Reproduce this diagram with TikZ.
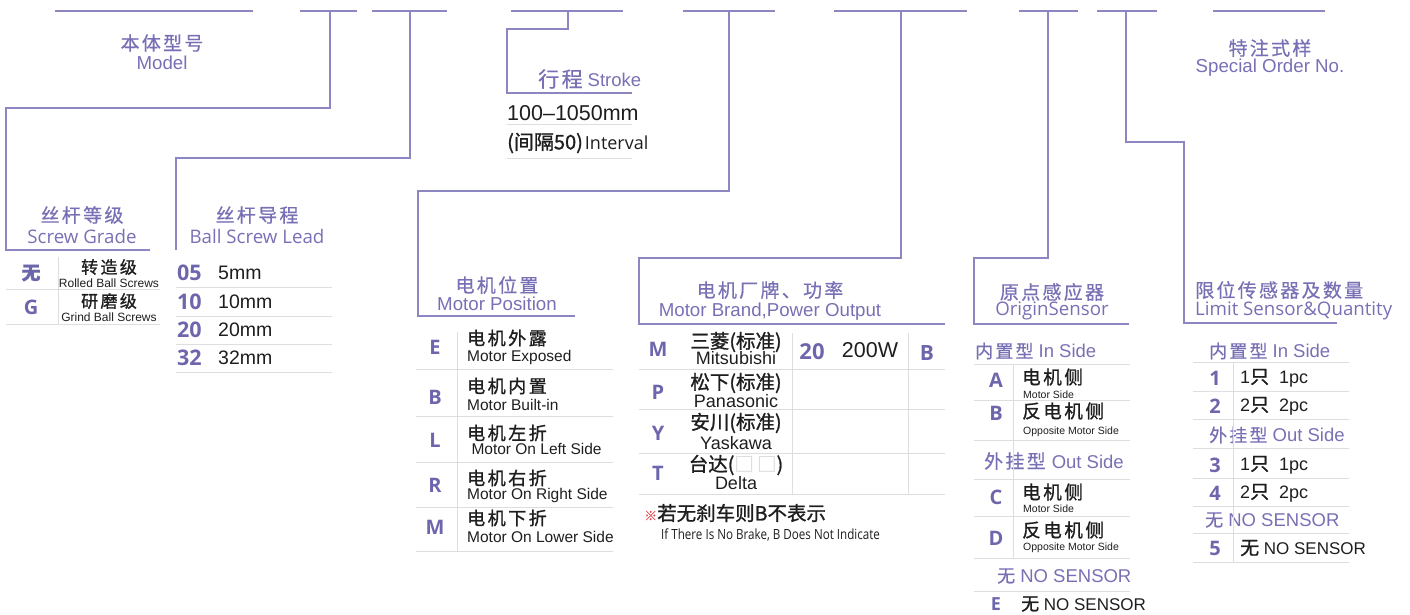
\documentclass[tikz,border=0pt]{standalone}
\usepackage{fontspec}
\usepackage{graphicx}
\setmainfont{Liberation Sans}
\newfontfamily\zh[FakeBold=0.6]{Noto Sans CJK SC}
\newfontfamily\zhs[LetterSpace=12,FakeBold=0.6]{Noto Sans CJK SC}
\newfontfamily\zhb[LetterSpace=14,FakeBold=1.2]{Noto Sans CJK SC}
\newfontfamily\zhk[FakeBold=1.2]{Noto Sans CJK SC}
\newfontfamily\hum{Open Sans}
\definecolor{lineC}{HTML}{8C87C3}
\definecolor{headC}{HTML}{7870B4}
\definecolor{letC}{HTML}{6E66AC}
\definecolor{grayL}{HTML}{DEDEDE}
\definecolor{txtC}{HTML}{1E1E1E}
\definecolor{starC}{HTML}{E0505A}
\newcommand{\fs}[1]{\fontsize{#1}{#1}\selectfont}
\tikzset{
  pl/.style={draw=lineC, line width=1.5pt},
  gl/.style={draw=grayL, line width=0.9pt},
  hz/.style={text=headC, inner sep=0pt, font=\zhs\fs{19}},
  he/.style={text=headC, inner sep=0pt, font=\hum\fs{18.7}},
  hea/.style={text=headC, inner sep=0pt, font=\fs{18.7}},
  lt/.style={text=letC, inner sep=0pt, font=\hum\bfseries\fs{20}},
  tz/.style={text=txtC, inner sep=0pt, font=\zhb\fs{17}},
  te/.style={text=txtC, inner sep=0pt, font=\fs{15.5}},
  ts/.style={text=txtC, inner sep=0pt, font=\fs{12}},
  tm/.style={text=txtC, inner sep=0pt, font=\fs{19.5}},
  sub/.style={text=headC, inner sep=0pt, font=\fs{18.5}},
}
\begin{document}
\begin{tikzpicture}[x=1pt,y=-1pt]
\useasboundingbox (0,0) rectangle (1410,614);
% ---------- top code segments ----------
\coordinate (a1) at (55,11); \coordinate (a2) at (253,11);
\coordinate (b1) at (300,11); \coordinate (b2) at (357,11); \coordinate (bs) at (330,11);
\coordinate (c1) at (372,11); \coordinate (c2) at (447,11); \coordinate (cs) at (410,11);
\coordinate (d1) at (511,11); \coordinate (d2) at (623,11); \coordinate (ds) at (568,11);
\coordinate (e1) at (683,11); \coordinate (e2) at (775,11); \coordinate (es) at (729,11);
\coordinate (f1) at (834,11); \coordinate (f2) at (967,11); \coordinate (fs) at (901,11);
\coordinate (g1) at (1019,11); \coordinate (g2) at (1078,11); \coordinate (gs) at (1048,11);
\coordinate (h1) at (1097,11); \coordinate (h2) at (1157,11); \coordinate (hs) at (1126,11);
\coordinate (i1) at (1213,11); \coordinate (i2) at (1325,11);
\foreach \p in {a,b,c,d,e,f,g,h,i} {\draw[pl] (\p1) -- (\p2);}
% ---------- connectors ----------
\draw[pl] (bs) -- (330,108) -- (6,108) -- (6,250) -- (150,250);
\draw[pl] (cs) -- (410,158) -- (176,158) -- (176,250);
\draw[pl] (ds) -- (568,29) -- (507,29) -- (507,93) -- (632,93);
\draw[pl] (es) -- (729,191) -- (418,191) -- (418,316) -- (575,316);
\draw[pl] (fs) -- (901,258) -- (639,258) -- (639,324) -- (945,324);
\draw[pl] (gs) -- (1048,258) -- (974,258) -- (974,324) -- (1129,324);
\draw[pl] (hs) -- (1126,142) -- (1184,142) -- (1184,323) -- (1337,323);
% ---------- model ----------
\node[hz] (mz) at (162,43) {本体型号};
\node[hea] (me) at (162,63) {Model};
\node[hz] (sz) at (1270,48) {特注式样};
\node[hea] (se) at (1270,68) {Special Order No.};
% ---------- stroke ----------
\node[anchor=west, inner sep=0pt] (st) at (538,79) {\textcolor{headC}{\zhs\fs{21}行程}\hspace{5pt}\textcolor{headC}{\fs{18.5}Stroke}};
\node[tm, font=\fs{21.5}, anchor=west] (st1) at (507,113) {100–1050mm};
\node[tm, anchor=west] (st2) at (507,143) {{\zhk\fs{20}(间隔50)}\hspace{2pt}{\hum\fs{18}Interval}};
\draw[gl] (507,124) -- (632,124);
\draw[gl] (507,158) -- (632,158);
% ---------- screw grade ----------
\node[hz] (gz) at (82,215) {丝杆等级};
\node[he] (ge) at (82,236) {Screw Grade};
\node[lt, font=\zh\bfseries\fs{19}] (g1l) at (31,273) {无};
\node[lt] (g2l) at (31,307) {G};
\node[tz] (g1z) at (109,267) {转造级};
\node[ts] (g1e) at (109,283) {Rolled Ball Screws};
\node[tz] (g2z) at (109,301) {研磨级};
\node[ts] (g2e) at (109,317) {Grind Ball Screws};
\draw[gl] (58,257) -- (58,324);
\draw[gl] (6,289) -- (160,289);
\draw[gl] (6,324) -- (160,324);
% ---------- ball screw lead ----------
\node[hz] (lz) at (257,215) {丝杆导程};
\node[he] (le) at (257,236) {Ball Screw Lead};
\foreach \n/\v/\y in {05/5/273, 10/10/302, 20/20/330, 32/32/358} {
  \node[lt, font=\hum\bfseries\fs{21.5}, anchor=west] (ln\n) at (177,\y) {\n};
  \node[tm, anchor=west] (lv\n) at (218,\y) {\v mm};
}
\foreach \y in {287,316,344,372} {\draw[gl] (176,\y) -- (332,\y);}
% ---------- motor position ----------
\node[hz] (pz) at (497,285) {电机位置};
\node[hea] (pe) at (497,304) {Motor Position};
\foreach \L/\ly/\z/\zy/\e/\ey in {E/347/电机外露/338/Motor Exposed/357, B/397/电机内置/386/Motor Built-in/405, L/440/电机左折/433/\ Motor On Left Side/449, R/485/电机右折/478/Motor On Right Side/495, M/527/电机下折/518/Motor On Lower Side/537} {
  \node[lt] (p\L) at (435,\ly) {\L};
  \node[tz, font=\zhb\fs{18}, anchor=west] (pz\L) at (467,\zy) {\z};
  \node[te, anchor=west] (pe\L) at (467,\ey) {\e};
}
\draw[gl] (457,332) -- (457,551);
\foreach \y in {369,416,462,507,551} {\draw[gl] (416,\y) -- (613,\y);}
% ---------- motor brand ----------
\node[hz] (bz) at (770,290) {电机厂牌、功率};
\node[hea] (be) at (770,312) {Motor Brand,Power Output};
\foreach \L/\ly/\z/\zy/\e/\ey in {M/349/三菱(标准)/342/Mitsubishi/358, P/392/松下(标准)/383/Panasonic/401, Y/433/安川(标准)/423/Yaskawa/443} {
  \node[lt] (b\L) at (658,\ly) {\L};
  \node[tz, font=\zhk\fs{19.5}] (bz\L) at (736,\zy) {\z};
  \node[te, font=\fs{18}] (be\L) at (736,\ey) {\e};
}
\node[lt] (bT) at (658,473) {T};
\node[tz, font=\zhk\fs{19.5}] (bzT) at (736,465) {台达(\textcolor{grayL}{□\,□})};
\node[te, font=\fs{18}] (beT) at (736,483) {Delta};
\node[lt, font=\hum\bfseries\fs{22}] (b20) at (812,352) {20};
\node[tm, font=\fs{21.5}] (b200) at (870,350) {200W};
\node[lt, font=\hum\bfseries\fs{21}] (bB) at (927,353) {B};
\draw[gl] (792,333) -- (792,494);
\draw[gl] (908,333) -- (908,494);
\foreach \y in {369,409,453,494} {\draw[gl] (639,\y) -- (945,\y);}
\node[anchor=west, inner sep=0pt] (bn1) at (644,513) {\textcolor{starC}{\zh\fs{13}※}\textcolor{txtC}{\zhk\fs{19.5}若无刹车则B不表示}};
\node[anchor=west, inner sep=0pt, text=txtC] (bn2) at (661,535) {\scalebox{0.83}[1]{\hum\fs{14}If There Is No Brake, B Does Not Indicate}};
% ---------- origin sensor ----------
\node[hz] (oz) at (1052,292) {原点感应器};
\node[he] (oe) at (1052,311) {OriginSensor};
\node[sub, anchor=west] (oin) at (975,351) {{\zhs\fs{18}内置型} In Side};
\node[sub, anchor=west] (oout) at (984,461) {{\zhs\fs{19}外挂型}\hspace{6pt}Out Side};
\node[sub, anchor=west] (ons) at (997,576) {{\zh\fs{18}无} NO SENSOR};
\foreach \L/\ly/\z/\zy/\e/\ey in {A/380/电机侧/377/Motor Side/395, B/413/反电机侧/411/Opposite Motor Side/432, C/497/电机侧/492/Motor Side/509, D/538/反电机侧/530/Opposite Motor Side/548} {
  \node[lt] (o\L) at (996,\ly) {\L};
  \node[tz, font=\zhb\fs{18.5}, anchor=west] (oz\L) at (1022,\zy) {\z};
  \node[ts, font=\fs{10.5}, anchor=west] (oe\L) at (1023,\ey) {\e};
}
\node[lt, font=\hum\bfseries\fs{18}] (oE) at (996,604) {E};
\node[tm, anchor=west, font=\fs{17}] (ozE) at (1021,604) {{\zhk\fs{18}无} NO SENSOR};
\draw[gl] (1013,364) -- (1013,558);
\foreach \y in {364,400,440,479,516,558,591} {\draw[gl] (974,\y) -- (1130,\y);}
% ---------- limit sensor ----------
\node[hz, anchor=west] (qz) at (1195,290) {限位传感器及数量};
\node[he, anchor=west] (qe) at (1195,311) {Limit Sensor\&Quantity};
\node[sub, anchor=west] (qin) at (1209,351) {{\zhs\fs{18}内置型} In Side};
\node[sub, anchor=west] (qout) at (1209,435) {{\zhs\fs{18}外挂型} Out Side};
\node[sub, anchor=west] (qns) at (1205,520) {{\zh\fs{18}无} NO SENSOR};
\foreach \L/\ly/\n in {1/378/1, 2/406/2, 3/465/1, 4/493/2} {
  \node[lt] (q\L) at (1215,\ly) {\L};
  \node[tm, font=\fs{18}, anchor=west] (qt\L) at (1240,\ly) {\n{\zhk\fs{19}只}\ \ \n pc};
}
\node[lt] (q5) at (1215,548) {5};
\node[tm, font=\fs{17}, anchor=west] (qt5) at (1240,548) {{\zhk\fs{19}无} NO SENSOR};
\draw[gl] (1233,362) -- (1233,562);
\foreach \y in {362,391,419,448,478,506,533,562} {\draw[gl] (1193,\y) -- (1349,\y);}
\end{tikzpicture}
\end{document}
